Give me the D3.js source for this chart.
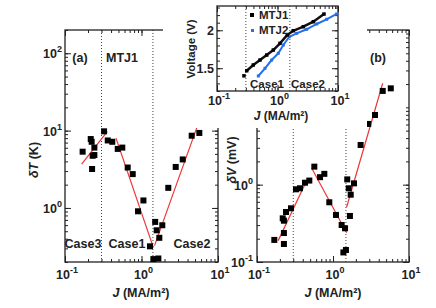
<!DOCTYPE html>
<html>
<head>
<meta charset="utf-8">
<script src="https://cdn.jsdelivr.net/npm/d3@7"></script>
<style>
  body { margin: 0; background: #fff; }
  svg { display: block; font-family: "Liberation Sans", Arial, sans-serif; font-weight: bold; }
</style>
</head>
<body>
<svg id="chart" width="436" height="308"></svg>
<script>
// panel (a): temperature rise vs current density, MTJ1
const jA  = [0.170, 0.217, 0.223, 0.242, 0.230, 0.242, 0.226, 0.324, 0.362, 0.415, 0.489, 0.561, 0.660, 0.768,
             1.06, 0.90, 1.51, 1.58, 1.71, 1.87, 1.29, 1.43, 1.66, 2.24, 2.80, 3.46, 4.53, 5.70];
const dTA = [5.34, 7.78, 7.17, 6.03, 4.73, 4.83, 3.19, 9.79, 7.46, 7.17, 5.80, 6.03, 3.33, 2.74,
             1.25, 0.905, 0.66, 0.514, 0.411, 0.597, 0.319, 0.218, 0.222, 1.82, 3.39, 4.24, 8.59, 9.33];
const fitAJ = [[0.165, 0.357], [0.464, 1.43], [1.48, 5.3]];
const fitAT = [[3.7, 9.7], [8.0, 0.307], [0.326, 11]];
const casesA = [0.3, 1.41];

// panel (b): voltage change vs current density
const jB  = [0.169, 0.226, 0.218, 0.226, 0.241, 0.280, 0.226, 0.326, 0.368, 0.428, 0.488, 0.568, 0.675, 0.769,
             0.894, 1.094, 1.30, 1.44, 1.37, 1.48, 1.54, 1.61, 1.71, 1.67, 1.89, 2.31, 2.91, 3.57, 4.51, 5.76];
const dVB = [0.193, 0.171, 0.367, 0.342, 0.443, 0.495, 0.237, 0.871, 0.898, 1.06, 1.13, 1.71, 1.25, 1.38,
             0.592, 0.406, 0.301, 0.273, 0.133, 0.143, 1.17, 0.898, 0.742, 0.394, 1.04, 3.26, 6.10, 7.96, 16.3, 17.6];
const fitBJ = [[0.19, 0.451], [0.525, 1.51], [1.51, 4.51]];
const fitBV = [[0.189, 1.13], [1.63, 0.239], [0.51, 20.5]];
const casesB = [0.3, 1.48];

// inset: voltage vs current density
const jMTJ1 = [0.279, 0.31, 0.398, 0.514, 0.663, 0.853, 1.10, 1.45, 1.82, 2.67, 3.91, 5.87];
const vMTJ1 = [1.40, 1.467, 1.543, 1.608, 1.674, 1.740, 1.828, 1.938, 1.994, 2.047, 2.113, 2.214];
const jMTJ2 = [0.482, 0.621, 0.801, 1.03, 1.25, 1.57, 2.07, 3.04, 4.45, 6.50, 9.5];
const vMTJ2 = [1.398, 1.499, 1.608, 1.697, 1.806, 1.915, 1.960, 2.013, 2.083, 2.145, 2.215];
const casesI = [0.3, 1.6];

const xExps = [-1, 0, 1];
const yExpsA = [0, 1, 2];
const yExpsB = [-1, 0];
const yTicksI = [1.5, 2];

const svg = d3.select("#chart");
const ink = "#222", red = "#ee3535", blue = "#2470f0";

const xA = d3.scaleLog().domain([0.1, 10]).range([65, 218]);
const yA = d3.scaleLog().domain([0.2, 200]).range([262, 30]);
const xB = d3.scaleLog().domain([0.1, 10]).range([257, 409]);
const yB = d3.scaleLog().domain([0.1, 100]).range([262, 30]);
const xI = d3.scaleLog().domain([0.1, 10]).range([217, 338]);
const yI = d3.scaleLinear().domain([1.2, 2.32]).range([91, 6]);

const pow = e => Math.pow(10, e);

// 10^n label with a raised exponent
function powLabel(sel, e) {
  sel.append("tspan").text("10");
  sel.append("tspan").attr("dy", -6).attr("font-size", 9).text(e);
}

// inward ticks on all four sides, minor + major
function ticks(x, y, xMajor, yMajor, yMinor) {
  const [l, r] = x.range(), [b, t] = y.range();
  const g = svg.append("g");
  const put = (axis, tx, ty, vals, size) => g.append("g")
    .attr("transform", `translate(${tx},${ty})`)
    .call(axis.tickValues(vals).tickSize(size).tickFormat(""))
    .call(a => a.select(".domain").remove())
    .call(a => a.selectAll(".tick line").attr("stroke", ink));
  const xMinor = x.ticks();
  put(d3.axisBottom(x), 0, b, xMinor, -3);
  put(d3.axisBottom(x), 0, b, xMajor, -6);
  put(d3.axisTop(x), 0, t, xMinor, -3);
  put(d3.axisTop(x), 0, t, xMajor, -6);
  put(d3.axisLeft(y), l, 0, yMinor, -3);
  put(d3.axisLeft(y), l, 0, yMajor, -6);
  put(d3.axisRight(y), r, 0, yMinor, -3);
  put(d3.axisRight(y), r, 0, yMajor, -6);
  g.append("rect").attr("x", l).attr("y", t).attr("width", r - l).attr("height", b - t)
    .attr("fill", "none").attr("stroke", ink).attr("stroke-width", 1.3);
}

function caseLines(x, y, cases) {
  svg.append("g").selectAll("line").data(cases).join("line")
    .attr("x1", d => x(d)).attr("x2", d => x(d))
    .attr("y1", y.range()[0]).attr("y2", y.range()[1])
    .attr("stroke", "#444").attr("stroke-width", 1).attr("stroke-dasharray", "1,2");
}

function squares(x, y, js, vs, size, color) {
  svg.append("g").selectAll("rect").data(js).join("rect")
    .attr("x", (d, i) => x(d) - size / 2).attr("y", (d, i) => y(vs[i]) - size / 2)
    .attr("width", size).attr("height", size).attr("fill", color);
}

function fits(x, y, fj, fv) {
  svg.append("g").selectAll("line").data(fj).join("line")
    .attr("x1", d => x(d[0])).attr("x2", d => x(d[1]))
    .attr("y1", (d, i) => y(fv[i][0])).attr("y2", (d, i) => y(fv[i][1]))
    .attr("stroke", red).attr("stroke-width", 1.2);
}

function xLabels(x, yPos, exps, size) {
  exps.forEach(e => {
    svg.append("text").attr("x", x(pow(e)) + 2).attr("y", yPos)
      .attr("text-anchor", "middle").attr("font-size", size).attr("fill", ink)
      .call(s => powLabel(s, e));
  });
}

function yLabels(y, xPos, exps) {
  exps.forEach(e => {
    svg.append("text").attr("x", xPos).attr("y", y(pow(e)) + 5)
      .attr("text-anchor", "end").attr("font-size", 12.5).attr("fill", ink)
      .call(s => powLabel(s, e));
  });
}

function jTitle(cx, cy, size) {
  const t = svg.append("text").attr("x", cx).attr("y", cy).attr("text-anchor", "middle")
    .attr("font-size", size).attr("fill", ink);
  t.append("tspan").attr("font-style", "italic").text("J");
  t.append("tspan").text(" (MA/m²)");
}

function yTitle(cx, cy, sym, unit) {
  const t = svg.append("text").attr("transform", `translate(${cx},${cy}) rotate(-90)`)
    .attr("text-anchor", "middle").attr("font-size", 12.5).attr("fill", ink);
  t.append("tspan").attr("font-style", "italic").text(sym);
  t.append("tspan").text(" " + unit);
}

function label(x, y, s, size, anchor) {
  svg.append("text").attr("x", x).attr("y", y).attr("text-anchor", anchor || "middle")
    .attr("font-size", size).attr("fill", ink).text(s);
}

// ---- panel (a)
caseLines(xA, yA, casesA);
ticks(xA, yA, xExps.map(pow), yExpsA.map(pow), yA.ticks());
fits(xA, yA, fitAJ, fitAT);
squares(xA, yA, jA, dTA, 6, "#000");
xLabels(xA, 279, xExps, 12.5);
yLabels(yA, 62, yExpsA);
jTitle(141, 297, 12.5);
yTitle(38, 160, "δT", "(K)");
label(80, 62, "(a)", 12.5);
label(122, 62, "MTJ1", 12.5);
label(83, 248, "Case3", 12.5);
label(127, 248, "Case1", 12.5);
label(192, 248, "Case2", 12.5);

// ---- panel (b)
caseLines(xB, yB, casesB);
ticks(xB, yB, xExps.map(pow), yExpsB.map(pow), yB.ticks());
fits(xB, yB, fitBJ, fitBV);
squares(xB, yB, jB, dVB, 6, "#000");
xLabels(xB, 279, xExps, 12.5);
yLabels(yB, 253, yExpsB);
jTitle(333, 297, 12.5);
yTitle(236, 160, "δV", "(mV)");
label(378, 62, "(b)", 12.5);

// ---- inset, drawn over a white patch
svg.append("rect").attr("x", 163).attr("y", 0).attr("width", 204).attr("height", 128).attr("fill", "#fff");
caseLines(xI, yI, casesI);
ticks(xI, yI, xExps.map(pow), yTicksI, yI.ticks(10));

const line = (js, vs) => d3.line().x((d, i) => xI(js[i])).y((d, i) => yI(vs[i]))(js);
svg.append("path").attr("d", line(jMTJ2, vMTJ2)).attr("fill", "none").attr("stroke", blue).attr("stroke-width", 2);
squares(xI, yI, jMTJ2, vMTJ2, 3, blue);
svg.append("path").attr("d", line(jMTJ1.slice(1), vMTJ1.slice(1))).attr("fill", "none").attr("stroke", "#111").attr("stroke-width", 2.5);
squares(xI, yI, jMTJ1, vMTJ1, 3.5, "#000");

xLabels(xI, 105, xExps, 12.5);
yTicksI.forEach(v => label(214, yI(v) + 5, String(v), 12.5, "end"));
jTitle(281, 120, 12);
svg.append("text").attr("transform", "translate(195,49) rotate(-90)").attr("text-anchor", "middle")
  .attr("font-size", 11.5).attr("fill", ink).text("Voltage (V)");

// legend
svg.append("rect").attr("x", 250).attr("y", 13).attr("width", 4).attr("height", 4).attr("fill", "#000");
label(259, 19, "MTJ1", 11.5, "start");
svg.append("rect").attr("x", 251).attr("y", 29).attr("width", 3).attr("height", 3).attr("fill", blue);
label(259, 34, "MTJ2", 11.5, "start");
label(267, 88, "Case1", 11.5);
label(308, 88, "Case2", 11.5);
</script>
</body>
</html>
